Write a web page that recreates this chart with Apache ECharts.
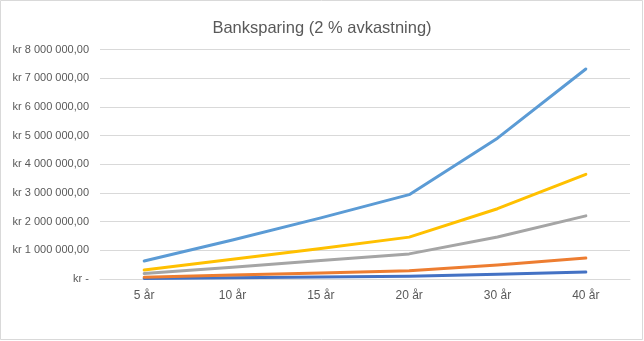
<!DOCTYPE html>
<html>
<head>
<meta charset="utf-8">
<script src="https://cdn.jsdelivr.net/npm/echarts@6/dist/echarts.min.js"></script>
<style>
  html, body { margin: 0; padding: 0; background: #fff; }
  #chart { width: 644px; height: 341px; }
</style>
</head>
<body>
<div id="chart"></div>
<script>
// Categories (savings period) and balances for each savings series, in NOK
const categories = ['5 år', '10 år', '15 år', '20 år', '30 år', '40 år'];
const series1 = [21000, 45000, 71000, 98000, 164000, 244000];
const series2 = [63000, 136000, 213000, 290000, 490000, 730000];
const series3 = [190000, 410000, 645000, 875000, 1465000, 2200000];
const series4 = [310000, 690000, 1065000, 1460000, 2450000, 3650000];
const series5 = [630000, 1360000, 2130000, 2940000, 4910000, 7320000];
const seriesColors = ['#4472C4', '#ED7D31', '#A5A5A5', '#FFC000', '#5B9BD5'];

const FONT = '"Liberation Sans", Arial, sans-serif';

function formatKr(v) {
  if (v === 0) return 'kr -';
  const whole = Math.round(v).toString().replace(/\B(?=(\d{3})+(?!\d))/g, ' ');
  return 'kr ' + whole + ',00';
}

const chart = echarts.init(document.getElementById('chart'), null, { renderer: 'canvas' });

const allSeries = [series1, series2, series3, series4, series5].map((data, i) => ({
  type: 'line',
  data: data,
  symbol: 'none',
  smooth: false,
  lineStyle: { width: 3, color: seriesColors[i], cap: 'round', join: 'round' },
  itemStyle: { color: seriesColors[i] },
  z: 2 + i
}));

chart.setOption({
  animation: false,
  backgroundColor: '#ffffff',
  title: {
    text: 'Banksparing (2 % avkastning)',
    left: 'center',
    top: 15,
    textStyle: { fontFamily: FONT, fontSize: 16.5, fontWeight: 'normal', color: '#595959' }
  },
  grid: { left: 100, right: 14, top: 49.5, bottom: 62, containLabel: false },
  xAxis: {
    type: 'category',
    data: categories,
    boundaryGap: true,
    axisLine: { show: true, lineStyle: { color: '#D9D9D9', width: 1 } },
    axisTick: { show: false },
    axisLabel: { fontFamily: FONT, fontSize: 12, color: '#595959', margin: 11 }
  },
  yAxis: {
    type: 'value',
    min: 0,
    max: 8000000,
    interval: 1000000,
    axisLine: { show: false },
    axisTick: { show: false },
    splitLine: { lineStyle: { color: '#D9D9D9', width: 1 } },
    axisLabel: { fontFamily: FONT, fontSize: 11, color: '#595959', margin: 11, formatter: formatKr }
  },
  graphic: [{
    type: 'rect',
    shape: { x: 0.5, y: 0.5, width: 642, height: 339 },
    style: { fill: 'none', stroke: '#D9D9D9', lineWidth: 1 },
    silent: true,
    z: 100
  }],
  series: allSeries
});
</script>
</body>
</html>
